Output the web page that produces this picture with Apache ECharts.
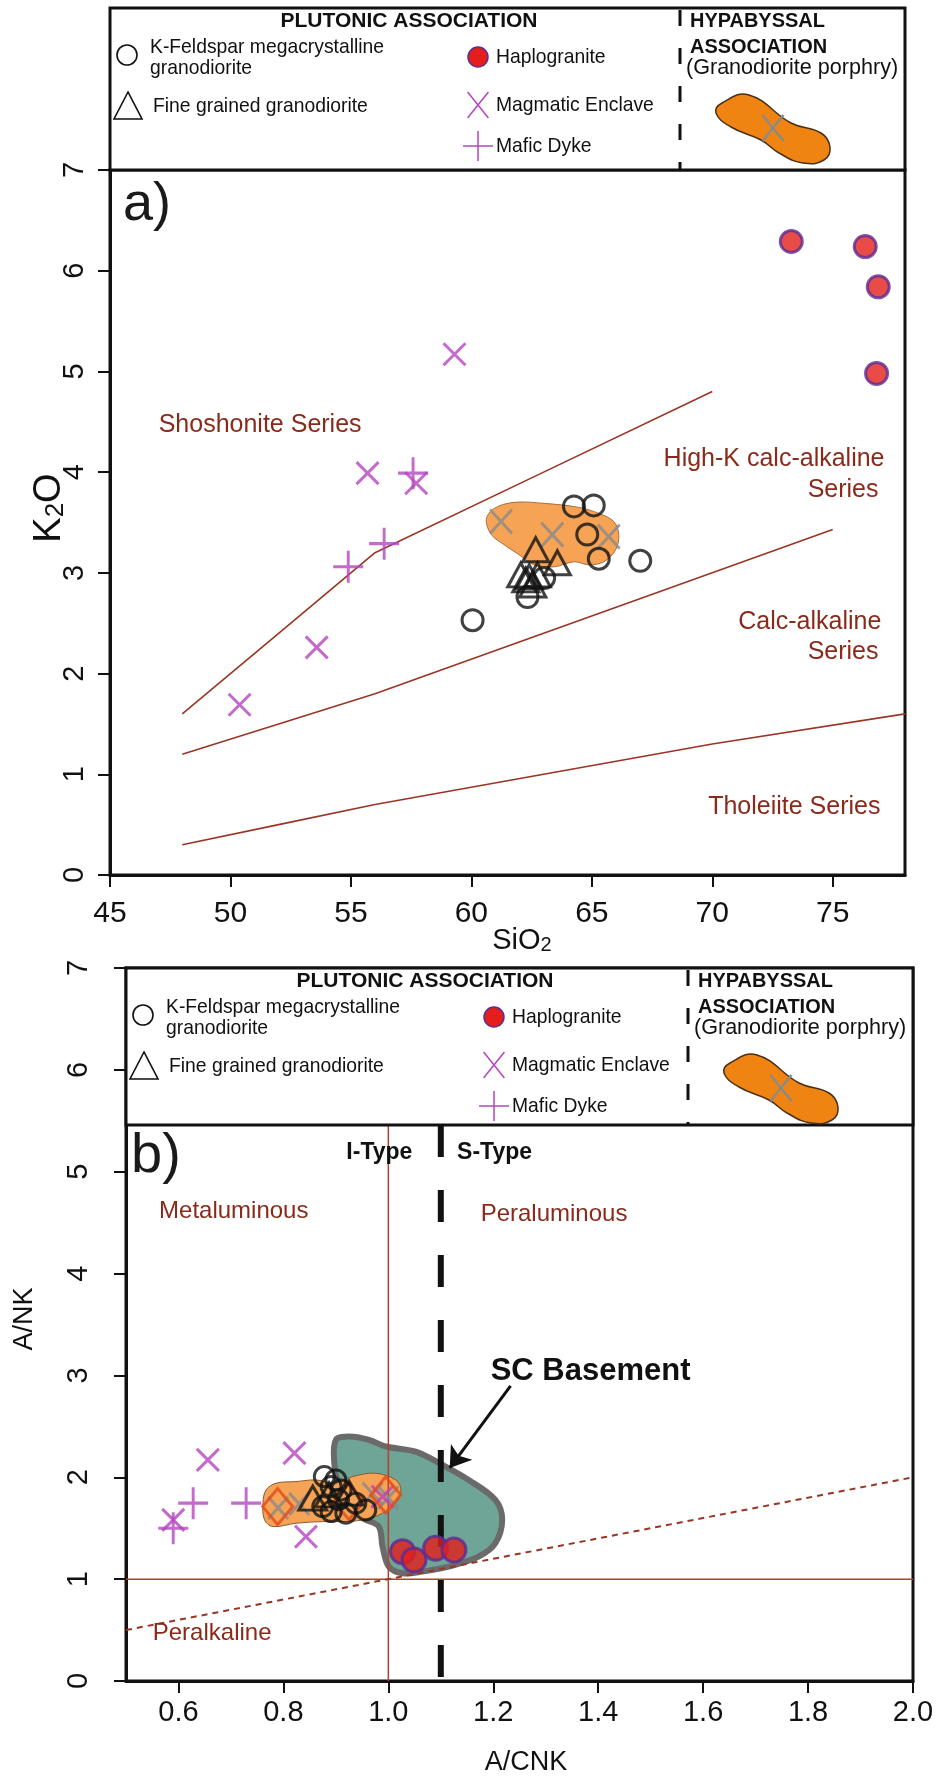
<!DOCTYPE html>
<html>
<head>
<meta charset="utf-8">
<script src="https://cdn.jsdelivr.net/npm/echarts@6/dist/echarts.min.js"></script>
<style>
  html, body { margin: 0; padding: 0; background: #fff; }
  #chart { width: 938px; height: 1783px; }
</style>
</head>
<body>
<div id="chart"></div>
<script>
// ---------- Panel a: SiO2 vs K2O (series boundaries after Peccerillo & Taylor) ----------
const siO2Ticks = [45, 50, 55, 60, 65, 70, 75];
const shoshoniteBoundary = [[48, 1.6], [52, 2.4], [56, 3.2], [63, 4.0], [70, 4.8]];
const highKBoundary = [[48, 1.2], [52, 1.5], [56, 1.8], [63, 2.4], [70, 3.0], [75, 3.43]];
const tholeiiteBoundary = [[48, 0.3], [52, 0.5], [56, 0.7], [63, 1.0], [70, 1.3], [78, 1.6]];

const kfsGranodioriteA = [[64.26, 3.66], [65.08, 3.67], [64.81, 3.38], [65.29, 3.14], [67.01, 3.12],
                          [62.33, 2.76], [63.02, 2.95], [60.05, 2.53]];
const fineGranodioriteA = [[62.67, 3.23], [63.57, 3.10], [62.05, 2.98], [62.40, 2.96], [62.74, 2.98],
                           [62.26, 2.93], [62.55, 2.88]];
const haplograniteA = [[73.28, 6.29], [76.35, 6.24], [76.89, 5.84], [76.82, 4.98]];
const enclaveA = [[59.30, 5.17], [55.69, 3.99], [57.71, 3.89], [50.38, 1.69], [53.58, 2.26]];
const mafiDykeA = [[54.89, 3.06], [56.38, 3.29], [57.58, 3.99]];
const porphyryA = [[61.23, 3.51], [63.36, 3.38], [65.70, 3.36]];
const porphyryFieldA = [[60.62, 3.53], [60.95, 3.64], [61.78, 3.70], [63.02, 3.69], [64.46, 3.65],
                        [65.29, 3.59], [65.91, 3.51], [66.12, 3.38], [65.99, 3.23], [65.50, 3.11],
                        [64.88, 3.08], [64.26, 3.11], [63.43, 3.06], [62.60, 3.08], [61.98, 3.18],
                        [61.36, 3.28], [60.83, 3.38]];
const seriesNamesA = [
  [47.02, 4.47, 'Shoshonite Series', 'left'],
  [77.15, 4.13, 'High-K calc-alkaline', 'right'],
  [76.90, 3.82, 'Series', 'right'],
  [77.02, 2.51, 'Calc-alkaline', 'right'],
  [76.90, 2.21, 'Series', 'right'],
  [76.98, 0.675, 'Tholeiite Series', 'right']
];

// ---------- Panel b: A/CNK vs A/NK ----------
const acnkTicks = [0.6, 0.8, 1.0, 1.2, 1.4, 1.6, 1.8, 2.0];
const metaluminousLine = [[1.0, 0], [1.0, 5.46]];
const peralkalineLine = [[0.5, 1.0], [2.0, 1.0]];
const diagonalLine = [[0.5, 0.5], [2.0, 2.0]];
const iSTypeLine = [[1.1, 0.04], [1.1, 5.45]];
const basementArrow = [[1.233, 2.898], [1.117, 2.092]];

const kfsGranodioriteB = [[0.878, 2.007], [0.900, 1.974], [0.891, 1.909], [0.910, 1.876], [0.875, 1.712],
                          [0.891, 1.663], [0.919, 1.647], [0.957, 1.680], [0.938, 1.746], [0.905, 1.780]];
const fineGranodioriteB = [[0.856, 1.795], [0.887, 1.827], [0.925, 1.844]];
const haplograniteB = [[1.027, 1.270], [1.049, 1.189], [1.090, 1.304], [1.125, 1.287]];
const enclaveB = [[0.656, 2.171], [0.821, 2.237], [0.843, 1.418], [0.590, 1.582], [0.989, 1.810]];
const mafiDykeB = [[0.628, 1.746], [0.729, 1.746], [0.590, 1.500]];
const porphyryB = [[0.790, 1.700], [0.830, 1.740], [0.970, 1.840], [1.000, 1.800]];
const porphyryDiamondsB = [[0.789, 1.712], [0.925, 1.761], [0.995, 1.827]];
const basementField = [[0.900, 2.367], [0.925, 2.400], [0.963, 2.367], [0.995, 2.302], [1.052, 2.252],
                       [1.103, 2.122], [1.153, 1.974], [1.204, 1.778], [1.217, 1.582], [1.204, 1.353],
                       [1.172, 1.221], [1.115, 1.123], [1.065, 1.074], [1.027, 1.058], [1.001, 1.123],
                       [0.989, 1.319], [0.982, 1.516], [0.957, 1.582], [0.925, 1.680], [0.906, 1.909],
                       [0.897, 2.139]];
const porphyryFieldB = [[0.761, 1.746], [0.767, 1.876], [0.786, 1.942], [0.824, 1.958], [0.862, 1.974],
                        [0.900, 1.942], [0.932, 2.007], [0.976, 2.040], [1.014, 1.974], [1.024, 1.876],
                        [1.014, 1.746], [0.989, 1.647], [0.951, 1.582], [0.913, 1.565], [0.875, 1.565],
                        [0.824, 1.549], [0.780, 1.516], [0.764, 1.582]];
const regionNamesB = [
  [0.563, 4.607, 'Metaluminous', 'left'],
  [1.176, 4.578, 'Peraluminous', 'left'],
  [0.551, 0.470, 'Peralkaline', 'left']
];
const typeNamesB = [
  [0.920, 5.187, 'I-Type', 'left'],
  [1.131, 5.187, 'S-Type', 'left']
];
const basementName = [[1.195, 3.035, 'SC Basement', 'left']];

// ---------- styling ----------
const FONT = '"Liberation Sans", Arial, sans-serif';
const INK = '#111';
const BROWN_LINE = '#9a3525';
const BROWN_TEXT = '#8a2a1a';
const PURPLE = '#b445bf';
const RED = '#e41e1a';
const RED_EDGE = '#5b2c96';
const GREY_X = '#8a8a8a';
const ORANGE_FIELD = '#f6a356';
const ORANGE_LEGEND = '#f08412';
const TEAL = '#6fa596';

const X_PATH = 'path://M0,0L10,10M10,0L0,10';
const PLUS_PATH = 'path://M5,0L5,10M0,5L10,5';

function scatter(data, gi, symbol, size, itemStyle, z) {
  return { type: 'scatter', xAxisIndex: gi, yAxisIndex: gi, data, symbol, symbolSize: size,
           itemStyle, z, silent: true };
}
function line(data, gi, color, width, type, z) {
  return { type: 'line', xAxisIndex: gi, yAxisIndex: gi, data, symbol: 'none', silent: true,
           lineStyle: { color, width, type }, z };
}
function field(data, gi, fill, stroke, lw, z) {
  return {
    type: 'custom', xAxisIndex: gi, yAxisIndex: gi, data, z, silent: true,
    renderItem(params, api) {
      if (params.dataIndex !== 0) return null;
      const pts = data.map(p => api.coord(p));
      return { type: 'polygon', shape: { points: pts, smooth: 0.35 },
               style: { fill, stroke, lineWidth: lw } };
    }
  };
}
function names(data, gi, textStyle, z) {
  return {
    type: 'scatter', xAxisIndex: gi, yAxisIndex: gi, silent: true, z,
    data: data.map(d => ({ value: [d[0], d[1]], name: d[2], label: { align: d[3] } })),
    symbolSize: 1, itemStyle: { color: 'rgba(0,0,0,0)' },
    label: Object.assign({ show: true, position: 'inside', verticalAlign: 'middle',
                           textBorderWidth: 0, textShadowBlur: 0, opacity: 1,
                           formatter: p => p.name, fontFamily: FONT }, textStyle)
  };
}

function axisX(gi, min, max, ticks, margin, size, fmt) {
  return {
    gridIndex: gi, type: 'value', min, max,
    axisLine: { onZero: false, lineStyle: { color: INK, width: 3 } },
    axisTick: { customValues: ticks, length: 12, lineStyle: { color: INK, width: 2 } },
    axisLabel: { customValues: ticks, color: INK, fontSize: size, fontFamily: FONT, margin,
                 formatter: fmt },
    splitLine: { show: false }
  };
}
function axisY(gi, margin) {
  return {
    gridIndex: gi, type: 'value', min: 0, max: 7, interval: 1,
    axisLine: { onZero: false, lineStyle: { color: INK, width: 3 } },
    axisTick: { length: 12, lineStyle: { color: INK, width: 2 } },
    axisLabel: { rotate: 90, color: INK, fontSize: 29, fontFamily: FONT, margin },
    splitLine: { show: false }
  };
}

// ---------- legend boxes (key to symbols) ----------
const blobOutline = [[-51, -25], [-24, -33], [18, -5], [48, 5], [57, 19], [51, 32], [30, 35],
                     [6, 25], [-12, 12], [-42, -1], [-57, -15]];

function text(x, y, s, opts, squeeze) {
  return { type: 'text', x, y, z: 52, silent: true,
           scaleX: squeeze || 1, originX: 0, originY: 0,
           style: Object.assign({ text: s, fill: INK, font: `21px ${FONT}`,
                                  align: 'left', verticalAlign: 'middle' }, opts || {}) };
}
function crossMark(cx, cy, h, color, lw, plus) {
  const lines = plus
    ? [[cx, cy - h, cx, cy + h], [cx - h, cy, cx + h, cy]]
    : [[cx - h * 0.8, cy - h, cx + h * 0.8, cy + h], [cx + h * 0.8, cy - h, cx - h * 0.8, cy + h]];
  return lines.map(l => ({ type: 'line', z: 53, silent: true,
                           shape: { x1: l[0], y1: l[1], x2: l[2], y2: l[3] },
                           style: { stroke: color, lineWidth: lw } }));
}
function legendBox(L, T, R, B) {
  const dash = R - 225;
  const sq = 0.92;
  const els = [];
  els.push({ type: 'rect', z: 50, silent: true, shape: { x: L, y: T, width: R - L, height: B - T },
             style: { fill: '#fff', stroke: INK, lineWidth: 3 } });
  els.push({ type: 'line', z: 51, silent: true, shape: { x1: dash, y1: T + 2, x2: dash, y2: B },
             style: { stroke: INK, lineWidth: 3, lineDash: [16, 22] } });
  els.push(text(L + 299, T + 13, 'PLUTONIC ASSOCIATION', { font: `bold 21px ${FONT}`, align: 'center' }));
  // K-feldspar megacrystalline granodiorite
  els.push({ type: 'circle', z: 53, silent: true, shape: { cx: L + 17, cy: T + 47, r: 10 },
             style: { fill: 'none', stroke: INK, lineWidth: 1.6 } });
  els.push(text(L + 40, T + 39, 'K-Feldspar megacrystalline', null, sq));
  els.push(text(L + 40, T + 60, 'granodiorite', null, sq));
  // fine grained granodiorite
  els.push({ type: 'polygon', z: 53, silent: true,
             shape: { points: [[L + 18, T + 84], [L + 4, T + 111], [L + 32, T + 111]] },
             style: { fill: 'none', stroke: INK, lineWidth: 1.6 } });
  els.push(text(L + 43, T + 98, 'Fine grained granodiorite', null, sq));
  // haplogranite
  els.push({ type: 'circle', z: 53, silent: true, shape: { cx: L + 368, cy: T + 49, r: 10 },
             style: { fill: RED, stroke: RED_EDGE, lineWidth: 1.5 } });
  els.push(text(L + 386, T + 49, 'Haplogranite', null, sq));
  // magmatic enclave
  els.push(...crossMark(L + 368, T + 97, 13, PURPLE, 1.5, false));
  els.push(text(L + 386, T + 97, 'Magmatic Enclave', null, sq));
  // mafic dyke
  els.push(...crossMark(L + 368, T + 138, 15, PURPLE, 1.5, true));
  els.push(text(L + 386, T + 138, 'Mafic Dyke', null, sq));
  // hypabyssal association
  els.push(text(dash + 10, T + 13, 'HYPABYSSAL', { font: `bold 21px ${FONT}` }, 0.95));
  els.push(text(dash + 10, T + 39, 'ASSOCIATION', { font: `bold 21px ${FONT}` }, 0.95));
  els.push(text(dash + 6, T + 60, '(Granodiorite porphry)', { font: `22px ${FONT}` }, 0.98));
  const bx = dash + 93, by = T + 120;
  els.push({ type: 'polygon', z: 52, silent: true,
             shape: { points: blobOutline.map(p => [bx + p[0], by + p[1]]), smooth: 0.45 },
             style: { fill: ORANGE_LEGEND, stroke: '#4a3016', lineWidth: 1.5 } });
  els.push(...crossMark(bx, by, 13, GREY_X, 2.5, false));
  return els;
}

const graphics = [].concat(
  legendBox(110, 8, 905, 170),
  legendBox(126, 968, 913, 1125),
  [
    text(123, 205, 'a)', { font: `54px ${FONT}`, fill: '#1a1a1a' }),
    text(131, 1157, 'b)', { font: `56px ${FONT}`, fill: '#1a1a1a' }),
    { type: 'text', x: 50, y: 508, rotation: Math.PI / 2, z: 52, silent: true,
      style: { text: '{m|K}{s|2}{m|O}', align: 'center', verticalAlign: 'middle', fill: INK,
               rich: { m: { fontSize: 38, fontFamily: FONT, fill: INK },
                       s: { fontSize: 26, fontFamily: FONT, fill: INK, verticalAlign: 'bottom' } } } },
    { type: 'text', x: 522, y: 941, z: 52, silent: true,
      style: { text: '{m|SiO}{s|2}', align: 'center', verticalAlign: 'middle', fill: INK,
               rich: { m: { fontSize: 29, fontFamily: FONT, fill: INK },
                       s: { fontSize: 20, fontFamily: FONT, fill: INK, verticalAlign: 'bottom' } } } },
    { type: 'text', x: 25, y: 1319, rotation: Math.PI / 2, z: 52, silent: true,
      style: { text: 'A/NK', align: 'center', verticalAlign: 'middle', fill: INK, font: `27px ${FONT}` } },
    { type: 'text', x: 526, y: 1763, z: 52, silent: true,
      style: { text: 'A/CNK', align: 'center', verticalAlign: 'middle', fill: INK, font: `27px ${FONT}` } }
  ]
);

const openInk = w => ({ color: 'none', borderColor: INK, borderWidth: w });
const crossStyle = c => ({ color: 'none', borderColor: c, borderWidth: 3 });
const haploStyle = { color: RED, borderColor: RED_EDGE, borderWidth: 3 };

const option = {
  animation: false,
  backgroundColor: '#fff',
  grid: [
    { left: 110, top: 170, width: 795, height: 705, show: true, borderColor: INK, borderWidth: 3 },
    { left: 126, top: 968, width: 787, height: 713, show: true, borderColor: INK, borderWidth: 3 }
  ],
  xAxis: [
    axisX(0, 45, 78, siO2Ticks, 24, 30, v => String(v)),
    axisX(1, 0.5, 2.0, acnkTicks, 17, 29, v => v.toFixed(1))
  ],
  yAxis: [axisY(0, 21), axisY(1, 33)],
  series: [
    // panel a
    field(porphyryFieldA, 0, ORANGE_FIELD, '#a8703c', 1, 1),
    line(shoshoniteBoundary, 0, BROWN_LINE, 1.6, 'solid', 3),
    line(highKBoundary, 0, BROWN_LINE, 1.6, 'solid', 3),
    line(tholeiiteBoundary, 0, BROWN_LINE, 1.6, 'solid', 3),
    names(seriesNamesA, 0, { color: BROWN_TEXT, fontSize: 25 }, 4),
    scatter(porphyryA, 0, X_PATH, [22, 24], crossStyle(GREY_X), 4),
    scatter(enclaveA, 0, X_PATH, [22, 22], crossStyle(PURPLE), 5),
    scatter(mafiDykeA, 0, PLUS_PATH, [30, 32], crossStyle(PURPLE), 5),
    scatter(kfsGranodioriteA, 0, 'circle', 21, openInk(3), 6),
    scatter(fineGranodioriteA, 0, 'triangle', [26, 24], openInk(3), 6),
    scatter(haplograniteA, 0, 'circle', 22, haploStyle, 6),
    // panel b
    field(basementField, 1, TEAL, '#6a6a6a', 6, 1),
    field(porphyryFieldB, 1, ORANGE_FIELD, '#8a5a30', 1, 2),
    line(peralkalineLine, 1, '#b2402e', 1.5, 'solid', 3),
    Object.assign(line(metaluminousLine, 1, '#b2402e', 1.5, 'solid', 3), {
      markLine: {
        silent: true, symbol: ['none', 'arrow'], symbolSize: 20, label: { show: false },
        lineStyle: { color: INK, width: 3, type: 'solid' },
        data: [[{ coord: basementArrow[0] }, { coord: basementArrow[1] }]]
      }
    }),
    line(diagonalLine, 1, '#9a3525', 2, [6, 5], 3),
    line(iSTypeLine, 1, INK, 6, [32, 33], 4),
    names(regionNamesB, 1, { color: BROWN_TEXT, fontSize: 24 }, 7),
    names(typeNamesB, 1, { color: INK, fontSize: 23, fontWeight: 'bold' }, 7),
    names(basementName, 1, { color: INK, fontSize: 31, fontWeight: 'bold' }, 7),
    scatter(porphyryB, 1, X_PATH, [20, 22], crossStyle(GREY_X), 4),
    scatter(porphyryDiamondsB, 1, 'diamond', [30, 36], { color: 'none', borderColor: '#e44a1a', borderWidth: 3 }, 6),
    scatter(enclaveB, 1, X_PATH, [22, 22], crossStyle(PURPLE), 5),
    scatter(mafiDykeB, 1, PLUS_PATH, [30, 32], crossStyle(PURPLE), 5),
    scatter(kfsGranodioriteB, 1, 'circle', 20, openInk(3), 6),
    scatter(fineGranodioriteB, 1, 'triangle', [28, 24], openInk(3), 6),
    scatter(haplograniteB, 1, 'circle', 24, haploStyle, 6)
  ],
  graphic: graphics
};

const chart = echarts.init(document.getElementById('chart'));
chart.setOption(option);
</script>
</body>
</html>
